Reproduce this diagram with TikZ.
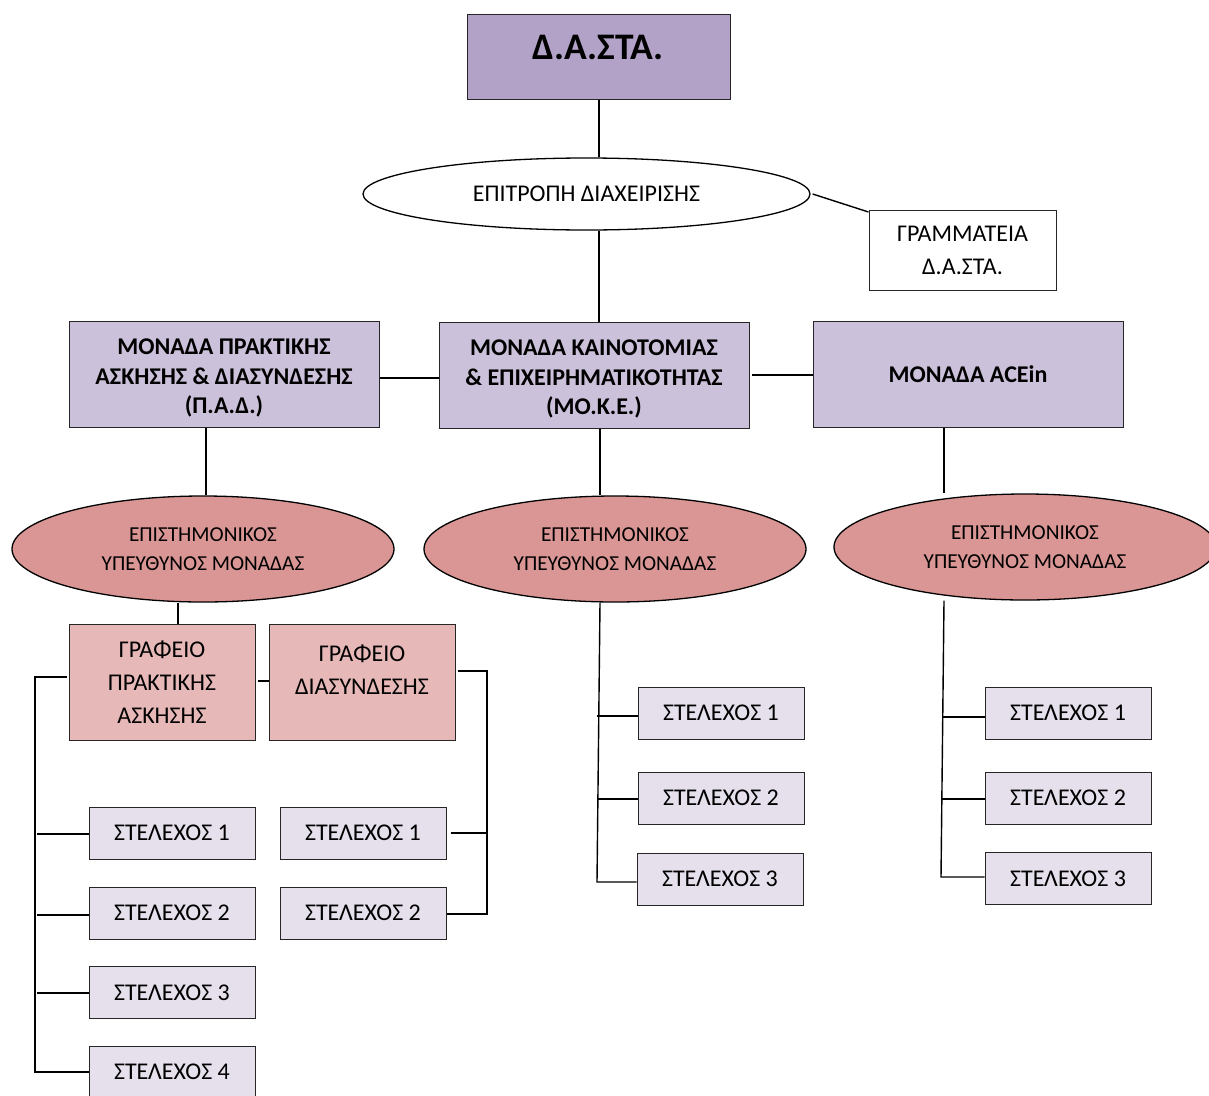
\documentclass[tikz,border=0pt]{standalone}
\usepackage{fontspec}
\setmainfont{Carlito}
\usetikzlibrary{shapes.geometric}
\definecolor{dastac}{HTML}{B3A2C7}
\definecolor{unitc}{HTML}{CCC1DA}
\definecolor{respc}{HTML}{D99694}
\definecolor{officec}{HTML}{E6B9B8}
\definecolor{staffc}{HTML}{E5E0EC}
\definecolor{edgec}{HTML}{262626}
\begin{document}
\begin{tikzpicture}[x=1pt,y=-1pt,
  box/.style={draw=edgec, line width=1pt, rectangle, inner sep=0pt, align=center},
  unitbox/.style={box, fill=unitc, minimum width=310, minimum height=106, font=\fontsize{24}{29.5}\selectfont\bfseries},
  unittext/.style={inner sep=0pt, align=center, font=\fontsize{24}{29.5}\selectfont\bfseries},
  staffbox/.style={box, fill=staffc, minimum width=166, minimum height=52, font=\fontsize{24}{28}\selectfont},
  officebox/.style={box, fill=officec, minimum width=186, minimum height=116, font=\fontsize{24}{33}\selectfont},
  resp/.style={draw=black, line width=1.3pt, ellipse, fill=respc, minimum width=382, minimum height=106, inner sep=0pt, align=center, font=\fontsize{21.3}{29}\selectfont},
  conn/.style={draw=black, line width=1.4pt},
  txt/.style={inner sep=0pt, align=center}
]
\useasboundingbox (0,0) rectangle (1209,1095);
\begin{scope}
\clip (0,0) rectangle (1209,1095);

% top
\node[box, fill=dastac, minimum width=263, minimum height=85] (dasta) at (598.5,56.5) {};
\node[txt, font=\fontsize{37.5}{40}\selectfont\bfseries] (dastat) at (598,47) {Δ.Α.ΣΤΑ.};

\node[draw=black, line width=1.3pt, ellipse, fill=white, minimum width=447, minimum height=72, inner sep=0pt, font=\fontsize{24}{28}\selectfont] (epitr) at (586.5,194) {ΕΠΙΤΡΟΠΗ ΔΙΑΧΕΙΡΙΣΗΣ};

\node[box, fill=white, minimum width=187, minimum height=80, font=\fontsize{24}{33}\selectfont] (gram) at (962.5,250) {ΓΡΑΜΜΑΤΕΙΑ\\Δ.Α.ΣΤΑ.};

% units
\node[unitbox] (pad) at (224,374) {};
\node[unittext] (padt) at (224,378) {ΜΟΝΑΔΑ ΠΡΑΚΤΙΚΗΣ\\ΑΣΚΗΣΗΣ \& ΔΙΑΣΥΝΔΕΣΗΣ\\(Π.Α.Δ.)};
\node[unitbox] (moke) at (594,375) {};
\node[unittext] (moket) at (594,379) {ΜΟΝΑΔΑ ΚΑΙΝΟΤΟΜΙΑΣ\\\& ΕΠΙΧΕΙΡΗΜΑΤΙΚΟΤΗΤΑΣ\\(ΜΟ.Κ.Ε.)};
\node[unitbox] (acein) at (968,374) {ΜΟΝΑΔΑ ACEin};

% responsible ellipses
\node[resp] (r1) at (203,549) {ΕΠΙΣΤΗΜΟΝΙΚΟΣ\\ΥΠΕΥΘΥΝΟΣ ΜΟΝΑΔΑΣ};
\node[resp] (r2) at (615,549) {ΕΠΙΣΤΗΜΟΝΙΚΟΣ\\ΥΠΕΥΘΥΝΟΣ ΜΟΝΑΔΑΣ};
\node[resp] (r3) at (1025,547) {ΕΠΙΣΤΗΜΟΝΙΚΟΣ\\ΥΠΕΥΘΥΝΟΣ ΜΟΝΑΔΑΣ};

% offices
\node[officebox] (gpa) at (162,682) {ΓΡΑΦΕΙΟ\\ΠΡΑΚΤΙΚΗΣ\\ΑΣΚΗΣΗΣ};
\node[officebox] (gd) at (362,682) {};
\node[txt, font=\fontsize{24}{33}\selectfont] (gdt) at (362,669.5) {ΓΡΑΦΕΙΟ\\ΔΙΑΣΥΝΔΕΣΗΣ};

% staff: left column
\node[staffbox] (a1) at (172,833) {ΣΤΕΛΕΧΟΣ 1};
\node[staffbox] (a2) at (172,913) {ΣΤΕΛΕΧΟΣ 2};
\node[staffbox] (a3) at (172,992.5) {ΣΤΕΛΕΧΟΣ 3};
\node[staffbox] (a4) at (172,1072) {ΣΤΕΛΕΧΟΣ 4};
% staff: liaison
\node[staffbox] (b1) at (363,833) {ΣΤΕΛΕΧΟΣ 1};
\node[staffbox] (b2) at (363,913) {ΣΤΕΛΕΧΟΣ 2};
% staff: MOKE
\node[staffbox] (c1) at (721,713) {ΣΤΕΛΕΧΟΣ 1};
\node[staffbox] (c2) at (721,798) {ΣΤΕΛΕΧΟΣ 2};
\node[staffbox] (c3) at (720,879) {ΣΤΕΛΕΧΟΣ 3};
% staff: ACEin
\node[staffbox] (d1) at (1068,713) {ΣΤΕΛΕΧΟΣ 1};
\node[staffbox] (d2) at (1068,798) {ΣΤΕΛΕΧΟΣ 2};
\node[staffbox] (d3) at (1068,878.5) {ΣΤΕΛΕΧΟΣ 3};

% connectors top
\draw[conn] (dasta.south -| 599,0) -- (epitr.north -| 599,0);
\draw[conn] (epitr.south -| 599,0) -- (moke.north -| 599,0);
\draw[conn] (epitr.east) ++(2,0) -- (gram.west |- 0,212);
\draw[conn] (pad.east |- 0,378) -- (moke.west |- 0,378);
\draw[conn] ([xshift=2pt]moke.east |- 0,375) -- (acein.west |- 0,375);
\draw[conn] (pad.south -| 206,0) -- (r1.north -| 206,0);
\draw[conn] (moke.south -| 600,0) -- (r2.north -| 600,0);
\draw[conn] (acein.south -| 944,0) -- (r3.north -| 944,0);
\draw[conn] (r1.south -| 178,0) -- (gpa.north -| 178,0);
\draw[conn] ([xshift=2pt]gpa.east |- 0,681) -- (gd.west |- 0,681);

% left bus
\coordinate (lbtop) at (35,677);
\coordinate (lbbot) at (35,1072);
\draw[conn] ([xshift=-2pt]gpa.west |- lbtop) -- (lbtop) -- (lbbot) -- (a4.west |- lbbot);
\draw[conn] (37,834) -- (a1.west |- 0,834);
\draw[conn] (37,915) -- (a2.west |- 0,915);
\draw[conn] (37,993) -- (a3.west |- 0,993);

% liaison bus
\coordinate (dbtop) at (487,671);
\coordinate (dbbot) at (487,914);
\draw[conn] ([xshift=2pt]gd.east |- dbtop) -- (dbtop) -- (dbbot) -- (b2.east |- dbbot);
\draw[conn] ([xshift=4pt]b1.east |- 0,833) -- (487,833);

% MOKE bus
\coordinate (mbbot) at (597,882);
\draw[conn] (r2.south -| 600,0) -- (mbbot) -- (c3.west |- mbbot);
\draw[conn] (597,716) -- (c1.west |- 0,716);
\draw[conn] (597,799) -- (c2.west |- 0,799);

% ACEin bus
\coordinate (abbot) at (941,877);
\draw[conn] (r3.south -| 944,0) -- (abbot) -- (d3.west |- abbot);
\draw[conn] (943,717) -- (d1.west |- 0,717);
\draw[conn] (942,799) -- (d2.west |- 0,799);
\end{scope}
\end{tikzpicture}
\end{document}
